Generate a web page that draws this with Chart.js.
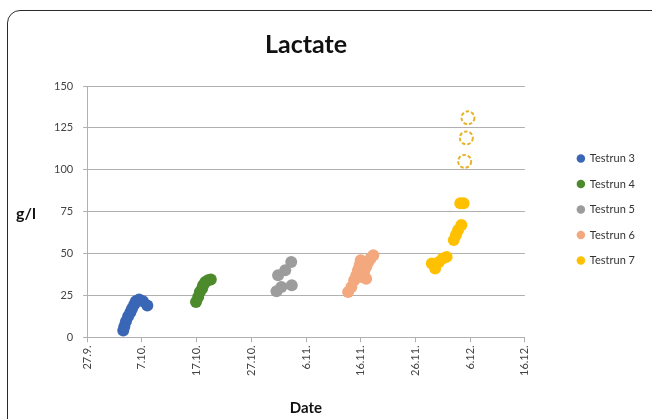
<!DOCTYPE html>
<html>
<head>
<meta charset="utf-8">
<script src="https://cdn.jsdelivr.net/npm/chart.js@4.4.1/dist/chart.umd.min.js"></script>
<style>
  html, body { margin: 0; padding: 0; background: #fff; overflow: hidden; }
  #wrap { position: relative; width: 652px; height: 419px; }
  #frame {
    position: absolute; left: 7px; top: 10px; width: 700px; height: 460px;
    border: 1.5px solid #2a2a2a; border-radius: 13px; pointer-events: none;
  }
  canvas { position: absolute; left: 0; top: 0; }
</style>
</head>
<body>
<div id="wrap">
  <canvas id="chart_lactate" width="652" height="419"></canvas>
  <div id="frame"></div>
</div>
<script>
  // x values are days after 27.9.
  const xTickLabels = ['27.9.', '7.10.', '17.10.', '27.10.', '6.11.', '16.11.', '26.11.', '6.12.', '16.12.'];

  const run3Day = [6.6, 6.8, 7.1, 7.5, 7.9, 8.2, 8.6, 8.9, 9.5, 10.2, 11.0];
  const run3Lac = [4, 6.5, 9.5, 12.5, 15, 17, 19.5, 21.5, 22.5, 21.5, 19];

  const run4Day = [19.9, 20.3, 20.6, 21.0, 21.2, 21.6, 22.1, 22.6];
  const run4Lac = [21, 24, 27, 29, 31, 33, 34, 34.5];

  const run5Day = [34.6, 35.5, 34.9, 36.2, 37.3, 37.4];
  const run5Lac = [27.5, 30, 37, 40, 45, 31];

  const run6Day = [47.7, 48.3, 48.8, 49.2, 49.5, 49.8, 50.2, 50.6, 51.0, 51.4, 51.8, 52.3, 50.0, 51.0];
  const run6Lac = [27, 30, 34, 37, 40, 43, 36, 39, 42, 45, 47, 49, 46, 35];

  const run7Day = [63.0, 63.6, 64.3, 65.0, 65.7, 67.0, 67.4, 67.8, 68.4, 68.2, 68.8];
  const run7Lac = [44, 41, 45, 47, 48, 58, 61, 64, 67, 80, 80];

  // open dashed circles of testrun 7
  const run7OpenDay = [69.0, 69.3, 69.6];
  const run7OpenLac = [105, 119, 131];

  const pts = (xs, ys) => xs.map((x, i) => ({ x: x, y: ys[i] }));

  const dashedPoints = {
    id: 'dashedPoints',
    beforeDatasetDraw(chart, args) {
      if (chart.data.datasets[args.index].dashed) chart.ctx.setLineDash([3.5, 2]);
    },
    afterDatasetDraw(chart) {
      chart.ctx.setLineDash([]);
    }
  };

  const yTitle = {
    id: 'yTitle',
    afterDraw(chart) {
      const ctx = chart.ctx;
      const area = chart.chartArea;
      ctx.save();
      ctx.font = "bold 16px 'Lato', sans-serif";
      ctx.fillStyle = '#111';
      ctx.textAlign = 'center';
      ctx.textBaseline = 'middle';
      ctx.fillText('g/l', 26, (area.top + area.bottom) / 2 + 2);
      ctx.restore();
    }
  };

  const grafico = document.getElementById('chart_lactate');

  new Chart(grafico, {
    type: 'scatter',
    data: {
      datasets: [{
        label: 'Testrun 3',
        data: pts(run3Day, run3Lac),
        backgroundColor: '#3A67B5',
        borderWidth: 0
      },
      {
        label: 'Testrun 4',
        data: pts(run4Day, run4Lac),
        backgroundColor: '#4C8A2C',
        borderWidth: 0
      },
      {
        label: 'Testrun 5',
        data: pts(run5Day, run5Lac),
        backgroundColor: '#9C9C9C',
        borderWidth: 0
      },
      {
        label: 'Testrun 6',
        data: pts(run6Day, run6Lac),
        backgroundColor: '#F3A87E',
        borderWidth: 0
      },
      {
        label: 'Testrun 7',
        data: pts(run7Day, run7Lac),
        backgroundColor: '#FFC000',
        borderWidth: 0
      },
      {
        label: 'Testrun 7 (open)',
        data: pts(run7OpenDay, run7OpenLac),
        backgroundColor: 'rgba(255,255,255,0)',
        borderColor: '#E6B32A',
        borderWidth: 2,
        radius: 6.5,
        dashed: true
      }]
    },
    options: {
      responsive: false,
      animation: false,
      elements: { point: { radius: 6, hoverRadius: 6 } },
      layout: { padding: { left: 44, top: 0, right: 7, bottom: 0 } },
      plugins: {
        tooltip: { enabled: false },
        legend: {
          position: 'right',
          labels: {
            usePointStyle: true,
            boxWidth: 7,
            boxHeight: 6,
            padding: 14.5,
            color: '#333',
            font: { size: 11, family: "'Lato', sans-serif" },
            filter: item => item.datasetIndex !== 5
          }
        },
        title: {
          display: true,
          text: 'Lactate',
          fullSize: false,
          color: '#111',
          padding: { top: 30, bottom: 26 },
          font: { size: 25, weight: 'bold', family: "'Lato', sans-serif" }
        }
      },
      scales: {
        x: {
          type: 'linear',
          min: 0,
          max: 80,
          grid: { drawOnChartArea: false, drawTicks: true, tickLength: 5, color: '#b0b0b0' },
          border: { color: '#b0b0b0' },
          ticks: {
            stepSize: 10,
            autoSkip: false,
            maxRotation: 90,
            minRotation: 90,
            padding: 3,
            color: '#444',
            font: { size: 11, family: "'Lato', sans-serif" },
            callback: v => xTickLabels[Math.round(v / 10)]
          },
          title: {
            display: true,
            text: 'Date',
            color: '#111',
            padding: { top: 20, bottom: 2 },
            font: { size: 15, weight: 'bold', family: "'Lato', sans-serif" }
          }
        },
        y: {
          min: 0,
          max: 150,
          grid: { color: '#b0b0b0', tickLength: 4 },
          border: { color: '#b0b0b0' },
          ticks: {
            stepSize: 25,
            padding: 10,
            color: '#444',
            font: { size: 11, family: "'Lato', sans-serif" }
          }
        },
        gap: {
          position: 'right',
          display: true,
          grid: { display: false },
          border: { display: false },
          ticks: { display: false },
          afterFit(scale) { scale.width = 38; }
        }
      }
    },
    plugins: [dashedPoints, yTitle]
  });
</script>
</body>
</html>
